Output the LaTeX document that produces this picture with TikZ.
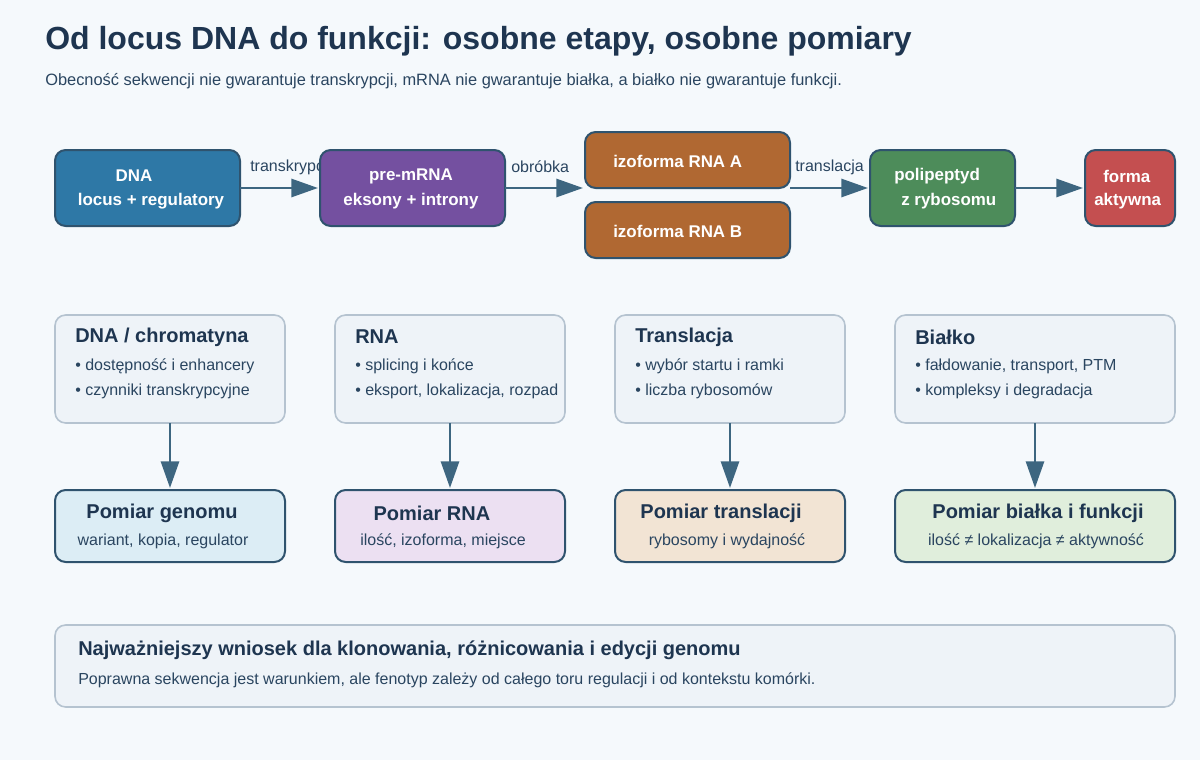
\documentclass[tikz,border=0pt]{standalone}
\usepackage{fontspec}
\setmainfont{Liberation Sans}
\usetikzlibrary{arrows.meta}
\definecolor{bg}{HTML}{F5F9FC}
\definecolor{ink}{HTML}{1E3550}
\definecolor{sub}{HTML}{2A4560}
\definecolor{edge}{HTML}{2F536E}
\definecolor{arr}{HTML}{3D6680}
\definecolor{card}{HTML}{EEF3F8}
\definecolor{cardb}{HTML}{B5C3D0}
\begin{document}
\begin{tikzpicture}[x=0.75pt,y=-0.75pt,
  proc/.style={draw=edge,line width=1.5pt,rounded corners=8pt},
  cardS/.style={fill=card,draw=cardb,line width=1.2pt,rounded corners=8pt},
  meas/.style={draw=edge,line width=1.5pt,rounded corners=8pt},
  wt/.style={text=white,font=\fontsize{12.7}{14}\selectfont\bfseries,inner sep=0pt},
  lab/.style={text=sub,font=\fontsize{12}{14}\selectfont,inner sep=0pt,anchor=west},
  fl/.style={-{Triangle[length=20pt,width=13.5pt]},draw=arr,line width=2.2pt},
  ct/.style={text=ink,font=\fontsize{15}{18}\selectfont\bfseries,inner sep=0pt,anchor=west},
  bl/.style={text=sub,font=\fontsize{12}{14}\selectfont,inner sep=0pt,anchor=west},
  mt/.style={text=ink,font=\fontsize{15}{18}\selectfont\bfseries,inner sep=0pt},
  ms/.style={text=sub,font=\fontsize{12}{14}\selectfont,inner sep=0pt}]
\fill[bg] (0,0) rectangle (1200,760);
\node[anchor=west,text=ink,font=\fontsize{24}{28}\selectfont\bfseries,inner sep=0pt] (title) at (45,41) {Od locus DNA do funkcji: osobne etapy, osobne pomiary};
\node[anchor=west,text=sub,font=\fontsize{12.3}{14}\selectfont,inner sep=0pt] (subt) at (45,81) {Obecność sekwencji nie gwarantuje transkrypcji, mRNA nie gwarantuje białka, a białko nie gwarantuje funkcji.};
% labels first (transkrypcja is partly hidden by box)
\node[lab] (l1) at (250,167) {transkrypcja};
\node[lab] (l2) at (511,167) {obróbka};
\node[lab] (l3) at (795,167) {translacja};
% top boxes
\draw[proc,fill={rgb,255:red,46;green,120;blue,166}] (55,150) rectangle (240,226);
\draw[proc,fill={rgb,255:red,116;green,80;blue,160}] (320,150) rectangle (505,226);
\draw[proc,fill={rgb,255:red,176;green,104;blue,50}] (585,132) rectangle (790,188);
\draw[proc,fill={rgb,255:red,176;green,104;blue,50}] (585,202) rectangle (790,258);
\draw[proc,fill={rgb,255:red,77;green,140;blue,90}] (870,150) rectangle (1015,226);
\draw[proc,fill={rgb,255:red,196;green,79;blue,80}] (1085,150) rectangle (1175,226);
\coordinate (dnaE) at (240,188); \coordinate (preW) at (318,188);
\coordinate (preE) at (505,188); \coordinate (izoW) at (583,188);
\coordinate (izoE) at (790,188); \coordinate (polW) at (868,188);
\coordinate (polE) at (1015,188); \coordinate (forW) at (1083,188);
\node[wt] (d1) at (134,176) {DNA};
\node[wt] (d2) at (151,201) {locus + regulatory};
\node[wt] (p1) at (411,176) {pre-mRNA};
\node[wt] (p2) at (411,201) {eksony + introny};
\node[wt,anchor=west] (ia) at (613,161) {izoforma RNA A};
\node[wt,anchor=west] (ib) at (613,231) {izoforma RNA B};
\node[wt,anchor=west] (q1) at (894,176) {polipeptyd};
\node[wt,anchor=west] (q2) at (901,201) {z rybosomu};
\node[wt,anchor=west] (f1) at (1103,176) {forma};
\node[wt,anchor=west] (f2) at (1094,201) {aktywna};
\draw[fl] (dnaE) -- (preW);
\draw[fl] (preE) -- (izoW);
\draw[fl] (izoE) -- (polW);
\draw[fl] (polE) -- (forW);
% cards
\foreach \x/\w in {55/230,335/230,615/230,895/280}{
  \draw[cardS] (\x,315) rectangle (\x+\w,423);}
\node[ct] (c1) at (75,337) {DNA / chromatyna};
\node[bl] at (75,366) {• dostępność i enhancery};
\node[bl] at (75,391) {• czynniki transkrypcyjne};
\node[ct] (c2) at (355,337) {RNA};
\node[bl] at (355,366) {• splicing i końce};
\node[bl] at (355,391) {• eksport, lokalizacja, rozpad};
\node[ct] (c3) at (635,337) {Translacja};
\node[bl] at (635,366) {• wybór startu i ramki};
\node[bl] at (635,391) {• liczba rybosomów};
\node[ct] (c4) at (915,337) {Białko};
\node[bl] at (915,366) {• fałdowanie, transport, PTM};
\node[bl] at (915,391) {• kompleksy i degradacja};
% measurement boxes
\draw[meas,fill={rgb,255:red,220;green,237;blue,245}] (55,490) rectangle (285,562);
\draw[meas,fill={rgb,255:red,236;green,224;blue,242}] (335,490) rectangle (565,562);
\draw[meas,fill={rgb,255:red,242;green,228;blue,212}] (615,490) rectangle (845,562);
\draw[meas,fill={rgb,255:red,224;green,238;blue,220}] (895,490) rectangle (1175,562);
\foreach \x in {170,450,730,1035}{
  \coordinate (a\x) at (\x,423); \coordinate (b\x) at (\x,488);
  \draw[fl] (a\x) -- (b\x);}
\node[mt] (m1) at (162,513) {Pomiar genomu};
\node[ms] at (163,541) {wariant, kopia, regulator};
\node[mt] (m2) at (432,513) {Pomiar RNA};
\node[ms] at (443,541) {ilość, izoforma, miejsce};
\node[mt] (m3) at (721,513) {Pomiar translacji};
\node[ms] at (727,541) {rybosomy i wydajność};
\node[mt] (m4) at (1038,513) {Pomiar białka i funkcji};
\node[ms] at (1036,541) {ilość ≠ lokalizacja ≠ aktywność};
% bottom
\draw[cardS] (55,625) rectangle (1175,707);
\node[ct] (bt) at (78,650) {Najważniejszy wniosek dla klonowania, różnicowania i edycji genomu};
\node[bl] (bs) at (78,680) {Poprawna sekwencja jest warunkiem, ale fenotyp zależy od całego toru regulacji i od kontekstu komórki.};
\end{tikzpicture}
\end{document}
